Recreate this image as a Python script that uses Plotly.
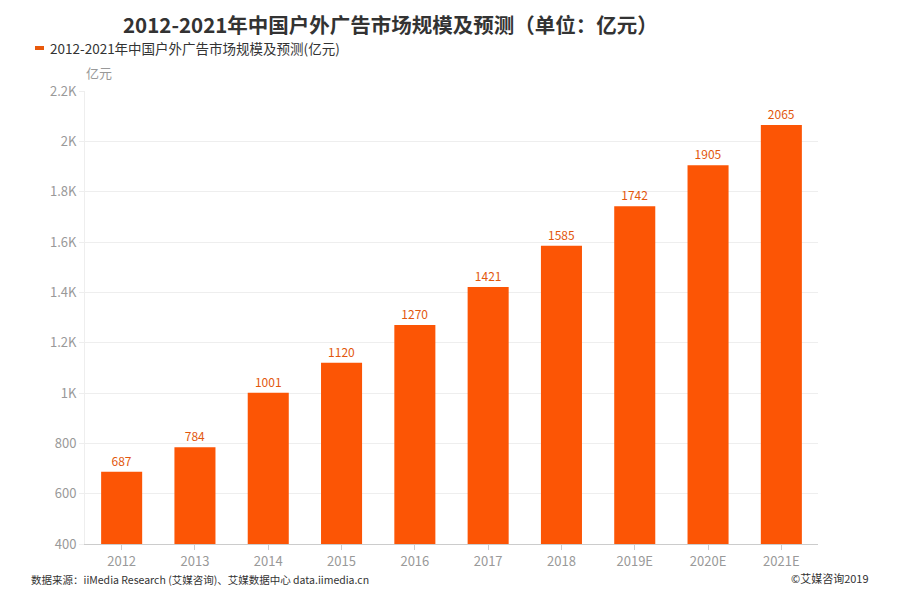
import plotly.graph_objects as go

categories = ["2012", "2013", "2014", "2015", "2016", "2017", "2018", "2019E", "2020E", "2021E"]
values = [687, 784, 1001, 1120, 1270, 1421, 1585, 1742, 1905, 2065]
y_tickvals = [400, 600, 800, 1000, 1200, 1400, 1600, 1800, 2000, 2200]
y_ticktext = ["400", "600", "800", "1K", "1.2K", "1.4K", "1.6K", "1.8K", "2K", "2.2K"]
series_name = "2012-2021年中国户外广告市场规模及预测(亿元)"
title_text = "2012-2021年中国户外广告市场规模及预测（单位：亿元）"
source_text = "数据来源：iiMedia Research (艾媒咨询)、艾媒数据中心 data.iimedia.cn"
copyright_text = "©艾媒咨询2019"

FONT = "Noto Sans CJK SC"
BAR = "#FC5505"

# page body has an 8px margin; lay out the figure in window coordinates
OFF = 8
W, H = 900 - OFF, 600 - OFF
L, R = 85 - OFF, 82
T, B = 91 - OFF, 56
pw, ph = W - L - R, H - T - B

def px(x):
    return (x - OFF - L) / pw

def py(y):
    return (H - B - (y - OFF)) / ph

fig = go.Figure()
fig.add_trace(go.Bar(
    x=categories, y=values, name=series_name,
    marker=dict(color=BAR, line=dict(width=0)),
    text=[str(v) for v in values], textposition="outside",
    textfont=dict(size=12, color="#E2570D", family=FONT),
    cliponaxis=False, showlegend=False,
))

fig.update_layout(
    width=W, height=H,
    margin=dict(l=L, r=R, t=T, b=B),
    paper_bgcolor="white", plot_bgcolor="white",
    font=dict(family=FONT, color="#999"),
    bargap=0.44,
    xaxis=dict(showgrid=False, showline=True, linecolor="#ccc", linewidth=1,
               ticks="outside", ticklen=5, tickcolor="#ccc",
               tickfont=dict(size=13, color="#999", family=FONT)),
    yaxis=dict(range=[400, 2200], tickvals=y_tickvals, ticktext=y_ticktext,
               showgrid=True, gridcolor="#eeeeee", gridwidth=1,
               showline=True, linecolor="#eeeeee", zeroline=False,
               ticks="outside", ticklen=5, tickcolor="#eeeeee",
               tickfont=dict(size=13, color="#999", family=FONT)),
    annotations=[
        dict(text="<b>" + title_text + "</b>", xref="paper", yref="paper",
             x=px(390), y=py(8), xanchor="center", yanchor="top", showarrow=False,
             borderpad=0,
             font=dict(size=20.5, color="#333", family=FONT)),
        dict(text=series_name, xref="paper", yref="paper",
             x=px(49), y=py(48), xanchor="left", yanchor="middle", showarrow=False,
             borderpad=0,
             font=dict(size=13.5, color="#333", family=FONT)),
        dict(text="亿元", xref="paper", yref="paper",
             x=px(84), y=py(72), xanchor="left", yanchor="middle", showarrow=False,
             font=dict(size=13, color="#999", family=FONT)),
        dict(text=source_text, xref="paper", yref="paper",
             x=px(29), y=py(579), xanchor="left", yanchor="middle", showarrow=False,
             font=dict(size=10.5, color="#333", family=FONT)),
        dict(text=copyright_text, xref="paper", yref="paper",
             x=px(871), y=py(578), xanchor="right", yanchor="middle", showarrow=False,
             font=dict(size=11, color="#333", family=FONT)),
    ],
    shapes=[
        dict(type="rect", xref="paper", yref="paper",
             x0=px(35), x1=px(44), y0=py(50), y1=py(46),
             fillcolor="#E8590C", line=dict(width=0)),
    ],
)

fig.write_html("out.html")
